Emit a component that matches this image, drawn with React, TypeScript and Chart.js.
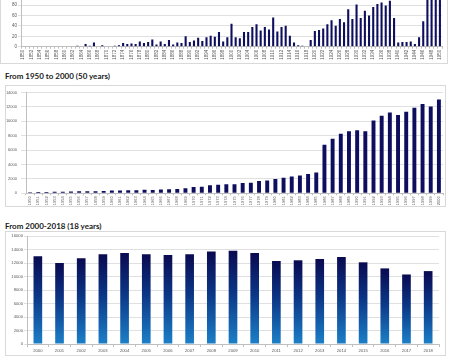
import React, { useEffect, useRef } from "react";
import { Chart, registerables } from "chart.js";
Chart.register(...registerables);

// ---------- DATA ----------
const years1 = Array.from({ length: 101 }, (_, i) => String(1850 + i));
const values1 = [
  0, 1, 1, 0, 0, 0, 0, 1, 0, 1,
  0, 0, 1, 2, 0, 5, 2, 8, 1, 3,
  0, 1, 2, 3, 7, 5, 6, 5, 10, 7,
  9, 14, 4, 10, 5, 13, 4, 8, 7, 20,
  9, 12, 17, 11, 18, 21, 19, 28, 10, 18,
  44, 18, 16, 28, 28, 38, 43, 31, 38, 33,
  56, 29, 38, 40, 21, 8, 3, 2, 1, 13,
  30, 32, 35, 43, 51, 40, 53, 47, 72, 53,
  81, 55, 69, 60, 76, 82, 85, 79, 88, 55,
  8, 9, 9, 10, 5, 18, 49, 120, 140, 130,
  150,
];

const years2 = Array.from({ length: 51 }, (_, i) => String(1950 + i));
const values2 = [
  150, 170, 180, 200, 230, 250, 270, 290, 300, 320,
  400, 400, 420, 440, 480, 470, 540, 560, 600, 700,
  880, 920, 1100, 1170, 1260, 1250, 1430, 1480, 1700, 1790,
  2000, 2150, 2330, 2470, 2690, 2900, 6730, 7580, 8250, 8600,
  8740, 8600, 10090, 10760, 11210, 10850, 11300, 11880, 12380, 12060,
  13000,
];

const years3 = [
  "2000", "2001", "2002", "2003", "2004", "2005", "2006", "2007", "2008", "2009",
  "2010", "2011", "2012", "2013", "2014", "2015", "2016", "2017", "2018",
];
const values3 = [
  13000, 12000, 12700, 13300, 13500, 13300, 13200, 13300, 13700, 13800,
  13500, 12300, 12400, 12600, 12900, 12100, 11200, 10300, 10800,
];

const title2 = "From 1950 to 2000 (50 years)";
const title3 = "From 2000-2018 (18 years)";

// ---------- STYLE ----------
const NAVY = "#0e0e5e";
const GRID = "#e0e0e0";
const AXIS = "#bfbfbf";
const TICK = "#595959";
const FONT = "Liberation Sans";

function makeConfig(o: any) {
  return {
    type: "bar",
    data: {
      labels: o.labels,
      datasets: [
        {
          data: o.values,
          backgroundColor: o.color,
          barPercentage: o.barPct,
          categoryPercentage: 1,
          borderWidth: 0,
        },
      ],
    },
    options: {
      responsive: false,
      animation: false,
      devicePixelRatio: 1,
      layout: { padding: o.padding },
      plugins: { legend: { display: false }, tooltip: { enabled: false }, title: { display: false } },
      scales: {
        x: {
          grid: { display: true, drawOnChartArea: false, drawTicks: true, tickLength: o.xTickLen, color: AXIS },
          border: { display: true, color: AXIS },
          ticks: {
            autoSkip: false,
            minRotation: o.rotate,
            maxRotation: o.rotate,
            padding: o.xPad,
            color: TICK,
            font: { family: FONT, size: o.xFont },
            callback: o.xCallback,
          },
          afterFit: (s: any) => {
            s.height = o.xHeight;
          },
        },
        y: {
          min: 0,
          max: o.yMax,
          grid: { color: GRID, tickLength: o.yTickLen, tickColor: GRID },
          border: { display: true, color: AXIS },
          ticks: {
            stepSize: o.yStep,
            padding: o.yPad,
            color: TICK,
            font: { family: FONT, size: o.yFont },
            callback: (v: any) => String(v),
          },
          afterFit: (s: any) => {
            s.width = o.yWidth;
          },
        },
      },
    },
  } as any;
}

function gradientBars(ctx: any) {
  const chart = ctx.chart;
  const { chartArea, scales } = chart;
  if (!chartArea || ctx.type !== "data" || !scales.y) return "#0c3f8f";
  const v = ctx.raw as number;
  const top = scales.y.getPixelForValue(v);
  const bottom = scales.y.getPixelForValue(0);
  const g = chart.ctx.createLinearGradient(0, top, 0, bottom);
  g.addColorStop(0, "#0a0a50");
  g.addColorStop(0.45, "#0b3686");
  g.addColorStop(1, "#1c80c8");
  return g;
}

function ChartCanvas({ make, width, height, style }: any) {
  const ref = useRef<HTMLCanvasElement>(null);
  useEffect(() => {
    const chart = new Chart(ref.current as HTMLCanvasElement, make());
    return () => chart.destroy();
  }, []);
  return (
    <canvas
      ref={ref}
      width={width}
      height={height}
      style={{ position: "absolute", width, height, display: "block", ...style }}
    />
  );
}

export default function App() {
  useEffect(() => {
    document.body.style.margin = "0";
  }, []);

  const titleStyle: React.CSSProperties = {
    position: "absolute",
    left: 5,
    fontFamily: "Lato",
    fontWeight: 700,
    fontSize: 8,
    lineHeight: "10px",
    color: "#1a1a1a",
    whiteSpace: "nowrap",
  };

  return (
    <div style={{ position: "relative", width: 450, height: 360, overflow: "hidden", background: "#fff" }}>
      {/* Chart 1: 1850-1950 (top cut off) */}
      <div
        style={{
          position: "absolute",
          left: 0,
          top: 0,
          width: 448,
          height: 64,
          overflow: "hidden",
          borderLeft: "1px solid #d9d9d9",
          borderRight: "1px solid #d9d9d9",
          borderBottom: "1px solid #d9d9d9",
          boxSizing: "border-box",
        }}
      >
        <ChartCanvas
          width={448}
          height={84}
          style={{ left: -1, top: -20 }}
          make={() =>
            makeConfig({
              labels: years1,
              values: values1,
              color: NAVY,
              barPct: 0.5,
              padding: { left: 1, right: 6, top: 14.6, bottom: 0 },
              yMax: 100,
              yStep: 20,
              yWidth: 20,
              yTickLen: 3,
              yPad: 1,
              yFont: 4.5,
              xHeight: 17.3,
              xTickLen: 2,
              xPad: 1,
              xFont: 4.5,
              rotate: 90,
              xCallback: function (this: any, _v: any, i: number) {
                return i % 2 === 0 ? years1[i] : "";
              },
            })
          }
        />
      </div>

      {/* Chart 2: 1950-2000 */}
      <div style={{ ...titleStyle, top: 71 }}>{title2}</div>
      <div
        style={{
          position: "absolute",
          left: 5,
          top: 85,
          width: 441,
          height: 122,
          border: "1px solid #d9d9d9",
          boxSizing: "border-box",
        }}
      >
        <ChartCanvas
          width={439}
          height={120}
          style={{ left: 0, top: 0 }}
          make={() =>
            makeConfig({
              labels: years2,
              values: values2,
              color: NAVY,
              barPct: 0.48,
              padding: { left: 0, right: 2, top: 4, bottom: 0 },
              yMax: 14000,
              yStep: 2000,
              yWidth: 20,
              yTickLen: 5,
              yPad: 4,
              yFont: 4,
              xHeight: 12.7,
              xTickLen: 2,
              xPad: 1,
              xFont: 4,
              rotate: 90,
              xCallback: function (this: any, _v: any, i: number) {
                return years2[i];
              },
            })
          }
        />
      </div>

      {/* Chart 3: 2000-2018 */}
      <div style={{ ...titleStyle, top: 221 }}>{title3}</div>
      <div
        style={{
          position: "absolute",
          left: 5,
          top: 231,
          width: 441,
          height: 125,
          border: "1px solid #d9d9d9",
          boxSizing: "border-box",
        }}
      >
        <ChartCanvas
          width={439}
          height={123}
          style={{ left: 0, top: 0 }}
          make={() =>
            makeConfig({
              labels: years3,
              values: values3,
              color: gradientBars,
              barPct: 0.4,
              padding: { left: 0, right: 6, top: 4, bottom: 0 },
              yMax: 16000,
              yStep: 2000,
              yWidth: 21,
              yTickLen: 3,
              yPad: 1,
              yFont: 4.2,
              xHeight: 11,
              xTickLen: 3,
              xPad: 1,
              xFont: 4.2,
              rotate: 0,
              xCallback: function (this: any, _v: any, i: number) {
                return years3[i];
              },
            })
          }
        />
      </div>
    </div>
  );
}
